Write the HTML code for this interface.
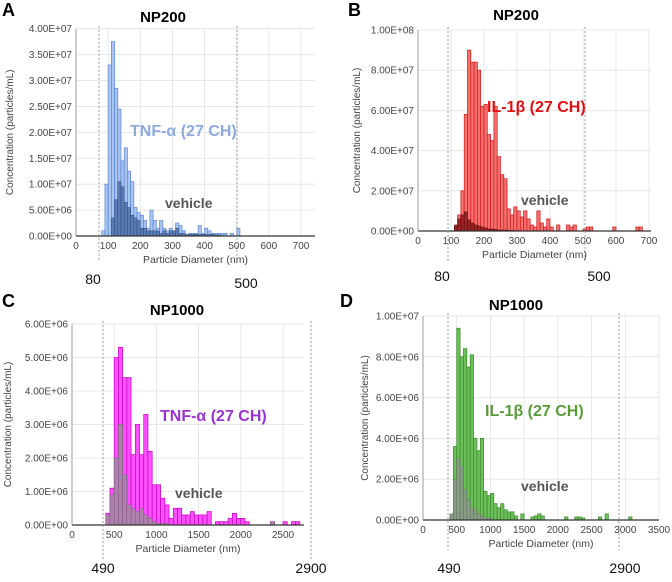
<!DOCTYPE html>
<html><head><meta charset="utf-8"><style>
body{margin:0;background:#fff;}
svg{display:block;font-family:"Liberation Sans",Arial,sans-serif;}
</style></head><body>
<svg id="fig" width="672" height="582" viewBox="0 0 672 582"></svg>
<script>
// Panel A: NP200 TNF-a, bins 10nm starting 80
const aStart = 80, aWidth = 10;
const aTreated = [0.1,1.0,3.3,3.75,2.85,2.45,1.45,1.7,1.25,1.05,0.55,0.45,0.4,0.3,0.15,0.5,0.3,0.15,0.3,0.15,0.1,0.15,0.05,0.25,0.2,0.1,0,0.05,0.05,0.05,0.2,0.05,0.15,0.1,0.05,0.05,0.05,0.05,0.05,0,0.05,0,0.15];
const aVehicle = [0,0,0,0.35,0.7,1.05,0.95,0.65,0.55,0.4,0.35,0.3,0.15,0.15,0.1,0.1,0.1,0.1,0.05,0.1,0.05,0.1,0.1,0.15,0.05,0.05,0.03,0.03,0.03,0.03,0.03,0.03,0.03,0.03,0.03,0.02,0.02];
const aTicksY = ["0.00E+00","5.00E+06","1.00E+07","1.50E+07","2.00E+07","2.50E+07","3.00E+07","3.50E+07","4.00E+07"];
const aTicksX = [0,100,200,300,400,500,600,700];
// Panel B: NP200 IL-1b, bins 10nm starting 110
const bStart = 110, bWidth = 10;
const bTreated = [0.2,0.8,2.0,5.8,9.0,8.4,8.4,8.0,6.2,6.3,4.8,4.5,6.2,3.7,2.8,2.6,1.1,0.8,1.2,1.0,0.7,1.0,0.6,0.3,0.2,1.0,0.4,0.2,0.6,0.2,0,0.3,0,0,0.3,0.2,0.3,0,0,0.1,0.2,0.2,0,0,0,0,0,0,0.2,0,0,0,0,0,0,0.2,0.2];
const bVehicle = [0.3,0.6,0.8,0.95,0.55,0.4,0.3,0.25,0.2,0.15,0.1,0.1,0.08,0.05,0.05,0.05,0.03,0.03,0.02,0.02];
const bTicksY = ["0.00E+00","2.00E+07","4.00E+07","6.00E+07","8.00E+07","1.00E+08"];
const bTicksX = [0,100,200,300,400,500,600,700];
// Panel C: NP1000 TNF-a, bins 50nm starting 400
const cStart = 400, cWidth = 50;
const cTreated = [0.35,1.1,5.0,5.3,4.4,4.4,2.1,3.0,2.1,3.3,2.2,1.2,1.2,0.8,0.6,0.2,0.5,0.5,0.3,0.3,0.4,0.3,0.3,0.3,0.4,0,0.1,0.1,0.1,0.2,0.35,0.2,0.2,0.1,0,0,0,0,0,0.1,0,0,0.1,0,0.1,0.1];
const cVehicle = [0.3,0.9,2.0,3.0,1.5,0.6,0.5,0.4,0.5,0.3,0.2,0.1,0.05,0.05,0.05,0,0,0,0,0,0,0,0,0,0,0,0,0,0,0,0,0,0,0,0,0,0,0,0,0.1];
const cTicksY = ["0.00E+00","1.00E+06","2.00E+06","3.00E+06","4.00E+06","5.00E+06","6.00E+06"];
const cTicksX = [0,500,1000,1500,2000,2500];
// Panel D: NP1000 IL-1b, bins 50nm starting 400
const dStart = 400, dWidth = 50;
const dTreated = [0.3,3.6,9.4,8.0,8.4,7.5,8.1,4.0,3.4,4.0,1.4,1.2,1.3,0.8,0.6,0.8,0.5,0.4,0.4,0.2,0,0.3,0,0,0.15,0.2,0.3,0.2,0,0,0,0,0,0,0.15,0,0,0.15,0.15,0.1,0,0,0,0,0.15,0,0.3,0,0,0,0,0,0,0.15];
const dVehicle = [0.3,2.0,3.0,2.6,1.5,1.0,0.6,0.5,0.3,0.2,0.1,0.1,0.05];
const dTicksY = ["0.00E+00","2.00E+06","4.00E+06","6.00E+06","8.00E+06","1.00E+07"];
const dTicksX = [0,500,1000,1500,2000,2500,3000,3500];

const NS="http://www.w3.org/2000/svg";
const svg=document.getElementById('fig');
function mk(tag,attrs,parent){const e=document.createElementNS(NS,tag);for(const k in attrs)e.setAttribute(k,attrs[k]);(parent||svg).appendChild(e);return e;}
function txt(x,y,s,attrs,parent){const e=mk('text',Object.assign({x:x,y:y},attrs),parent);e.textContent=s;return e;}

function panel(cfg){
  const g=mk('g',{});
  
  
  const sx=v=>cfg.x0+(v-cfg.xmin)/(cfg.xmax-cfg.xmin)*(cfg.x1-cfg.x0);
  const sy=v=>cfg.y0-v/cfg.ymax*(cfg.y0-cfg.y1);
  cfg.ticksY.forEach((t,i)=>{
    const v=i*cfg.ymax/(cfg.ticksY.length-1);const y=sy(v);
    const l=mk('line',{x1:cfg.x0,x2:cfg.xr,y1:y,y2:y,stroke:'#e2e2e2','stroke-width':0.8},g);
    
    const t2=txt(cfg.x0-4,y+3.5,t,{'font-size':10,'text-anchor':'end',fill:'#444'},g);
    
  });
  cfg.ticksX.forEach(v=>{
    const x=sx(v);
    const l=mk('line',{x1:x,x2:x,y1:cfg.y1,y2:cfg.y0,stroke:'#e2e2e2','stroke-width':0.8},g);
    
    const t2=txt(x,cfg.y0+13,String(v),{'font-size':10,'text-anchor':'middle',fill:'#444'},g);
    
  });
  cfg.treated.forEach((v,i)=>{
    if(v<=0)return;
    const xa=sx(cfg.start+i*cfg.width),xb=sx(cfg.start+(i+1)*cfg.width);
    const r=mk('rect',{x:xa,y:sy(v*cfg.unit),width:xb-xa,height:cfg.y0-sy(v*cfg.unit),fill:cfg.fill,stroke:cfg.edge,'stroke-width':0.7},g);
    
  });
  cfg.vehicle.forEach((v,i)=>{
    if(v<=0)return;
    const xa=sx(cfg.start+i*cfg.width),xb=sx(cfg.start+(i+1)*cfg.width);
    const r=mk('rect',{x:xa,y:sy(v*cfg.unit),width:xb-xa,height:cfg.y0-sy(v*cfg.unit),fill:cfg.vfill,stroke:cfg.vedge,'stroke-width':0.5,'fill-opacity':0.85},g);
    
  });
  const ax=mk('line',{x1:cfg.x0,x2:cfg.xr,y1:cfg.y0,y2:cfg.y0,stroke:'#333','stroke-width':1.2},g);
  
  const ay=mk('line',{x1:cfg.x0,x2:cfg.x0,y1:cfg.y1,y2:cfg.y0,stroke:'#888','stroke-width':0.8},g);
  
  cfg.dashes.forEach(d=>{
    const l=mk('line',{x1:d[0],x2:d[0],y1:cfg.y1-3,y2:d[1],stroke:'#999','stroke-width':1,'stroke-dasharray':'2,2'},g);
    
    const t=txt(d[2],d[3],d[4],{'font-size':14,'text-anchor':'middle',fill:'#111'},g);
    
  });
  const xt=txt((cfg.x0+cfg.xr)/2,cfg.y0+27,'Particle Diameter (nm)',{'font-size':10.5,'text-anchor':'middle',fill:'#444'},g);
  
  const yt=txt(0,0,'Concentration (particles/mL)',{'font-size':10,'text-anchor':'middle',fill:'#444',transform:`translate(${cfg.ytx},${(cfg.y0+cfg.y1)/2}) rotate(-90)`},g);
  
  const tt=txt(cfg.title[0],cfg.title[1],cfg.title[2],{'font-size':15,'font-weight':'bold','text-anchor':'middle',fill:'#000'},g);
  
  const lt=txt(cfg.letter[0],cfg.letter[1],cfg.letter[2],{'font-size':18,'font-weight':'bold',fill:'#000'},g);
  
  const sl=txt(cfg.slabel[0],cfg.slabel[1],cfg.slabel[2],{'font-size':16,'font-weight':'bold',fill:cfg.slabel[3]},g);
  
  const vl=txt(cfg.vlabel[0],cfg.vlabel[1],'vehicle',{'font-size':14,'font-weight':'bold',fill:'#555'},g);
  
}

panel({name:'panel-a',x0:76,x1:301,xr:315,xmin:0,xmax:700,y0:236,y1:28.7,ymax:4,unit:1,
  ticksY:aTicksY,ticksX:aTicksX,treated:aTreated,vehicle:aVehicle,start:aStart,width:aWidth,
  fill:'#a9c4f0',edge:'#5a88d6',vfill:'#4e6fa8',vedge:'#2f4f86',
  dashes:[[99,262,93,284,'80'],[237,262,246,288,'500']],ytx:13,
  title:[163,22,'NP200'],letter:[2,16,'A'],slabel:[130,136,'TNF-α (27 CH)','#8eaadb'],vlabel:[165,208]});
panel({name:'panel-b',x0:418,x1:649,xr:651,xmin:0,xmax:700,y0:231,y1:30,ymax:10,unit:1,
  ticksY:bTicksY,ticksX:bTicksX,treated:bTreated,vehicle:bVehicle,start:bStart,width:bWidth,
  fill:'#f47070',edge:'#d01818',vfill:'#8b1616',vedge:'#5a0a0a',
  dashes:[[448,262,442,281,'80'],[585,262,599,281,'500']],ytx:360,
  title:[516,20,'NP200'],letter:[348,16,'B'],slabel:[487,112,'IL-1β (27 CH)','#e01010'],vlabel:[521,205]});
panel({name:'panel-c',x0:72,x1:283,xr:304,xmin:0,xmax:2500,y0:525,y1:324,ymax:6,unit:1,
  ticksY:cTicksY,ticksX:cTicksX,treated:cTreated,vehicle:cVehicle,start:cStart,width:cWidth,
  fill:'#ff50ff',edge:'#c000c0',vfill:'#a088a0',vedge:'#806080',
  dashes:[[103,560,103,573,'490'],[311,560,311,573,'2900']],ytx:11,
  title:[177,315,'NP1000'],letter:[2,307,'C'],slabel:[160,421,'TNF-α (27 CH)','#9933cc'],vlabel:[175,498]});
panel({name:'panel-d',x0:423,x1:659,xr:659,xmin:0,xmax:3500,y0:520,y1:316,ymax:10,unit:1,
  ticksY:dTicksY,ticksX:dTicksX,treated:dTreated,vehicle:dVehicle,start:dStart,width:dWidth,
  fill:'#6cbf5a',edge:'#3a8a2a',vfill:'#8a968a',vedge:'#6a726a',
  dashes:[[448,550,449,573,'490'],[619,550,625,573,'2900']],ytx:368,
  title:[516,310,'NP1000'],letter:[340,307,'D'],slabel:[485,416,'IL-1β (27 CH)','#5a9a3a'],vlabel:[521,491]});
</script>
</body></html>
